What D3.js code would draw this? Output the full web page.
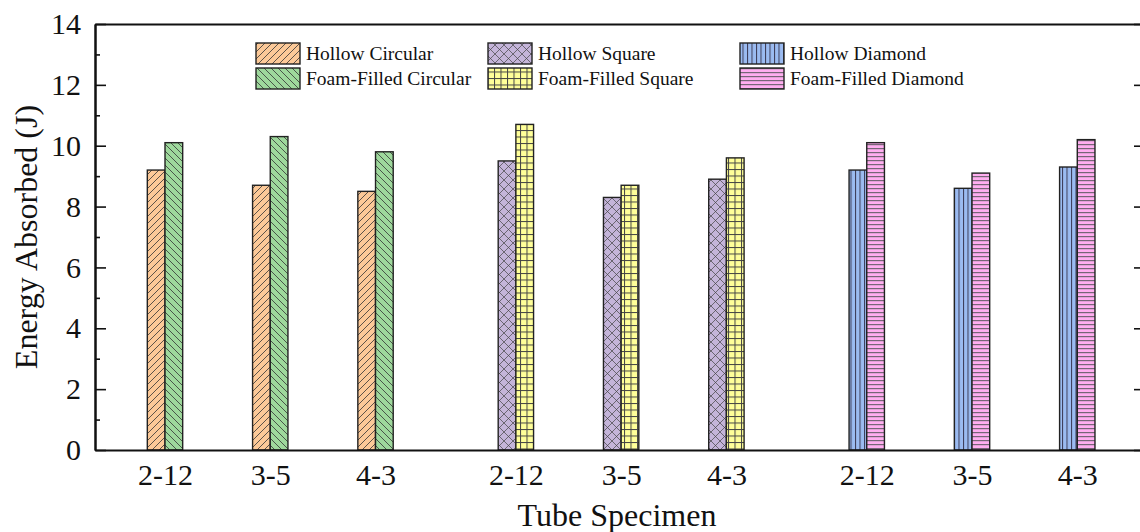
<!DOCTYPE html>
<html>
<head>
<meta charset="utf-8">
<script src="https://d3js.org/d3.v7.min.js"></script>
<style>
  body { margin: 0; background: #fff; }
  svg { display: block; overflow: hidden; }
  text { font-family: "Liberation Serif", "Times New Roman", serif; fill: #111; }
</style>
</head>
<body>
<svg id="svgMain" width="1140" height="532"></svg>
<script>
// ---- data ----
const specimens = ["2-12", "3-5", "4-3"];
const shapes = ["Circular", "Square", "Diamond"];

const hollowCircular = [9.2, 8.7, 8.5];
const foamCircular = [10.1, 10.3, 9.8];
const hollowSquare = [9.5, 8.3, 8.9];
const foamSquare = [10.7, 8.7, 9.6];
const hollowDiamond = [9.2, 8.6, 9.3];
const foamDiamond = [10.1, 9.1, 10.2];

const yTicks = [0, 2, 4, 6, 8, 10, 12, 14];
const yMinorTicks = [1, 3, 5, 7, 9, 11, 13];

// series table built from the arrays above
const series = [
    { name: "Hollow Circular", shape: 0, hollow: true, values: hollowCircular, color: "#fcc998", pat: "slash" },
    { name: "Foam-Filled Circular", shape: 0, hollow: false, values: foamCircular, color: "#9ed89c", pat: "backslash" },
    { name: "Hollow Square", shape: 1, hollow: true, values: hollowSquare, color: "#c4b4d9", pat: "cross" },
    { name: "Foam-Filled Square", shape: 1, hollow: false, values: foamSquare, color: "#ffff99", pat: "grid" },
    { name: "Hollow Diamond", shape: 2, hollow: true, values: hollowDiamond, color: "#9bbbf1", pat: "vert" },
    { name: "Foam-Filled Diamond", shape: 2, hollow: false, values: foamDiamond, color: "#ffaef0", pat: "horiz" }
];

const svg = d3.select("#svgMain");
const plotLeft = 95, plotRight = 1145, plotTop = 24, plotBottom = 450;
const groupStep = 3 + 1 / 3;

const x = d3.scaleLinear().domain([-0.665, 9.31]).range([plotLeft, plotRight]);
const y = d3.scaleLinear().domain([0, 14]).range([plotBottom, plotTop]);
const barW = x(0.168) - x(0);
const pos = (shape, i) => shape * groupStep + i;

// ---- hatch patterns ----
const defs = svg.append("defs");
function makePattern(s) {
    let size = { slash: 7, backslash: 7, cross: 9, grid: 6.5, vert: 4.5, horiz: 4 }[s.pat];
    let p = defs.append("pattern")
        .attr("id", "pat-" + s.pat)
        .attr("patternUnits", "userSpaceOnUse")
        .attr("width", size)
        .attr("height", size);
    p.append("rect").attr("width", size).attr("height", size).attr("fill", s.color);
    let line = (x1, y1, x2, y2, w, c) => p.append("line")
        .attr("x1", x1).attr("y1", y1).attr("x2", x2).attr("y2", y2)
        .attr("stroke", c || "#333").attr("stroke-width", w || 0.8);
    if (s.pat === "slash") {
        line(0, size, size, 0); line(-1, 1, 1, -1); line(size - 1, size + 1, size + 1, size - 1);
    } else if (s.pat === "backslash") {
        line(0, 0, size, size); line(size - 1, -1, size + 1, 1); line(-1, size - 1, 1, size + 1);
    } else if (s.pat === "cross") {
        line(0, 0, size, size, 0.7, "#444"); line(0, size, size, 0, 0.7, "#444");
    } else if (s.pat === "grid") {
        line(0.5, 0, 0.5, size, 1, "#444"); line(0, 0.5, size, 0.5, 1, "#444");
    } else if (s.pat === "vert") {
        line(0.5, 0, 0.5, size, 1, "#3a3a55");
    } else if (s.pat === "horiz") {
        line(0, 0.6, size, 0.6, 1.2, "#776677");
    }
}
series.forEach(makePattern);

// ---- bars ----
const bars = svg.append("g");
series.forEach(s => {
    bars.selectAll(null)
        .data(s.values)
        .join("rect")
        .attr("x", (d, i) => s.hollow ? x(pos(s.shape, i)) - barW : x(pos(s.shape, i)))
        .attr("y", d => y(d))
        .attr("width", barW)
        .attr("height", d => y(0) - y(d))
        .attr("fill", "url(#pat-" + s.pat + ")")
        .attr("stroke", "#222")
        .attr("stroke-width", 1.4);
});

// ---- axes ----
svg.append("g")
    .attr("transform", "translate(" + plotLeft + ",0)")
    .call(d3.axisLeft(y).tickValues(yTicks).tickSize(-11).tickSizeOuter(0).tickPadding(14));
svg.append("g")
    .attr("transform", "translate(" + plotLeft + ",0)")
    .call(d3.axisLeft(y).tickValues(yMinorTicks).tickSize(-5).tickSizeOuter(0).tickFormat(""));
svg.append("g")
    .attr("transform", "translate(" + plotRight + ",0)")
    .call(d3.axisRight(y).tickValues(yTicks).tickSize(-11).tickSizeOuter(0).tickFormat(""));
svg.append("g")
    .attr("transform", "translate(" + plotRight + ",0)")
    .call(d3.axisRight(y).tickValues(yMinorTicks).tickSize(-5).tickSizeOuter(0).tickFormat(""));

let xPositions = [];
let xLabels = [];
shapes.forEach((sh, g) => specimens.forEach((sp, i) => { xPositions.push(pos(g, i)); xLabels.push(sp); }));

svg.append("g")
    .attr("transform", "translate(0," + plotBottom + ")")
    .call(d3.axisBottom(x).tickValues(xPositions).tickSize(0).tickSizeOuter(0).tickPadding(14)
        .tickFormat((d, i) => xLabels[i]));
svg.append("g")
    .attr("transform", "translate(0," + plotTop + ")")
    .call(d3.axisTop(x).tickValues([]).tickSizeOuter(0));

svg.selectAll(".domain").attr("stroke", "#111").attr("stroke-width", 2);
svg.selectAll(".tick line").attr("stroke", "#111").attr("stroke-width", 1.6);
svg.selectAll(".tick text").attr("font-size", 30).attr("font-family", "Liberation Serif, serif").attr("fill", "#111");

// ---- axis titles ----
svg.append("text")
    .attr("transform", "translate(37," + (plotTop + plotBottom) / 2 + ") rotate(-90)")
    .attr("text-anchor", "middle")
    .attr("font-size", 32)
    .text("Energy Absorbed (J)");
svg.append("text")
    .attr("x", (plotLeft + plotRight) / 2 - 3)
    .attr("y", 526)
    .attr("text-anchor", "middle")
    .attr("font-size", 32)
    .text("Tube Specimen");

// ---- legend ----
const legendCols = [256, 488, 740];
const legend = svg.append("g");
series.forEach(s => {
    let lx = legendCols[s.shape];
    let ly = s.hollow ? 43 : 68;
    legend.append("rect")
        .attr("x", lx).attr("y", ly)
        .attr("width", 44).attr("height", 21)
        .attr("fill", "url(#pat-" + s.pat + ")")
        .attr("stroke", "#222").attr("stroke-width", 1.4);
    legend.append("text")
        .attr("x", lx + 50).attr("y", ly + 17)
        .attr("font-size", 19.5)
        .text(s.name);
});
</script>
</body>
</html>
